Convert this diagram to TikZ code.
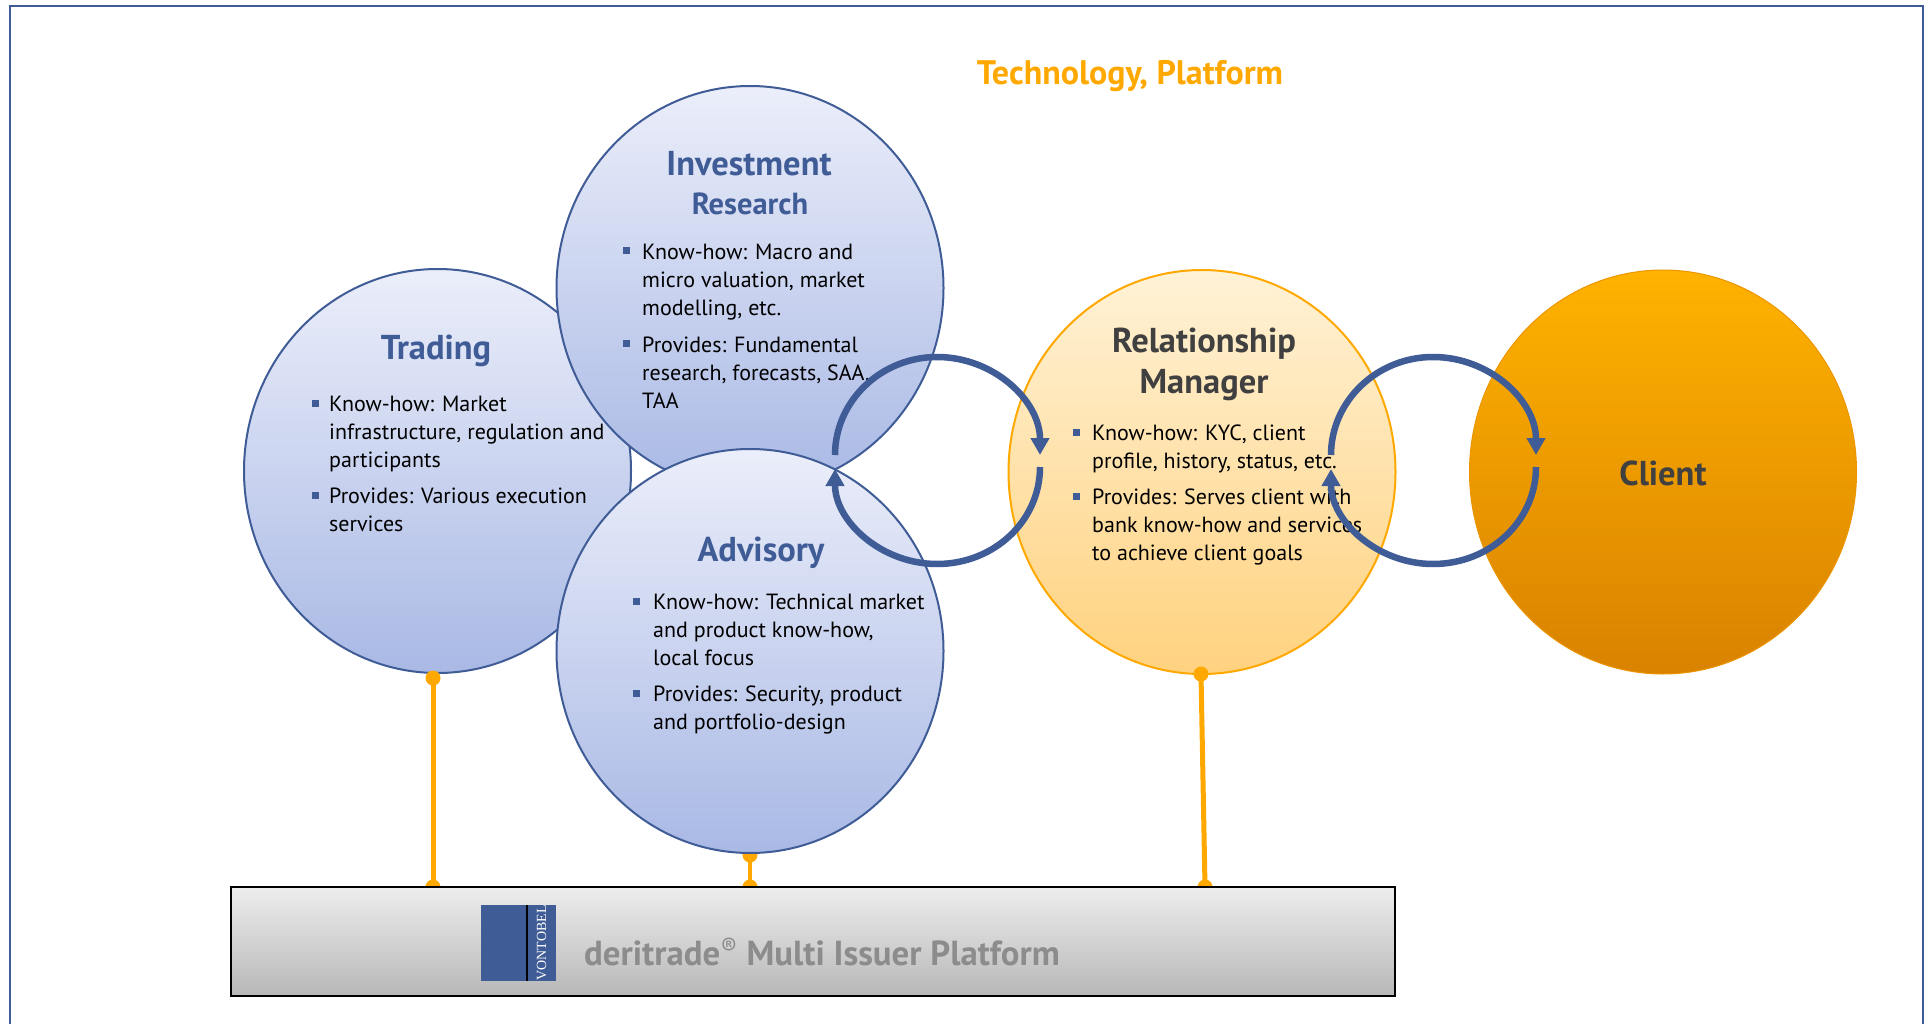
\documentclass[tikz,border=0pt]{standalone}
\usepackage{fontspec}
\setmainfont{PT Sans}
\usetikzlibrary{shapes.geometric,arrows.meta}
\definecolor{vblue}{HTML}{3F5C96}
\definecolor{vorange}{HTML}{FFA800}
\definecolor{blueTop}{HTML}{EBEEFA}
\definecolor{blueBot}{HTML}{A9B9E5}
\definecolor{rmTop}{HTML}{FFF2D6}
\definecolor{rmBot}{HTML}{FFD27F}
\definecolor{cliTop}{HTML}{FFB200}
\definecolor{cliBot}{HTML}{D98200}
\definecolor{darkT}{HTML}{404040}
\newcommand\blk[1]{\begin{tabular}[t]{@{}l@{}}#1\end{tabular}}
\tikzset{
  blob/.style={ellipse,inner sep=0pt,minimum width=387pt,minimum height=404pt},
  bluec/.style={blob,draw=vblue,line width=2pt,top color=blueTop,bottom color=blueBot},
  rmc/.style={blob,draw=vorange,line width=2pt,top color=rmTop,bottom color=rmBot},
  clientc/.style={blob,draw=cliBot!50!vorange,line width=1pt,top color=cliTop,bottom color=cliBot},
  ttl/.style={font=\bfseries\fontsize{34.5}{40}\selectfont,text=vblue,inner sep=0pt,anchor=center},
  ttlsub/.style={font=\bfseries\fontsize{30.5}{36}\selectfont,text=vblue,inner sep=0pt,anchor=center},
  dark/.style={text=darkT},
  body/.style={font=\fontsize{22}{28}\selectfont,text=black,inner sep=0pt,anchor=base west},
  bul/.style={fill=vblue,inner sep=0pt,minimum size=7pt},
  dot/.style={circle,fill=vorange,inner sep=0pt,minimum size=15pt},
  link/.style={draw=vorange,line width=5pt},
  cyc/.style={draw=vblue,line width=6.5pt},
  cyctip/.style={cyc,-{Triangle[length=17pt,width=18pt]}},
}
\begin{document}
\begin{tikzpicture}[x=1pt,y=-1pt]
\useasboundingbox (0,0) rectangle (1924,1024);
\fill[white] (0,0) rectangle (1924,1024);
\draw[vblue,line width=2pt] (10,1030) -- (10,6) -- (1922.5,6) -- (1922.5,1030);
\clip (0,0) rectangle (1924,1024);
\coordinate (tt) at (433,678); \coordinate (tb) at (433,887);
\coordinate (at) at (750,855); \coordinate (ab) at (750,887);
\coordinate (rt) at (1201,674); \coordinate (rb) at (1205,887);
\node[dot] (dat) at (at) {};
\draw[link,line width=4pt] (at) -- (ab);
\node[bluec] (trading) at (437.5,471) {};
\node[bluec] (invest) at (750,288) {};
\node[bluec] (advis) at (750,651) {};
\node[rmc] (rm) at (1202,472) {};
\node[clientc] (client) at (1663,472) {};
\node[dot] (dtt) at (tt) {};
\draw[link] (dtt.center) -- (tb);
\node[dot] (drt) at (rt) {};
\draw[link] (drt.center) -- (rb);
\node[dot] (dtb) at (tb) {};
\node[dot] (dab) at (ab) {};
\node[dot] (drb) at (rb) {};
\node[draw=black,line width=2pt,minimum width=1164pt,minimum height=109pt,inner sep=0pt,top color=black!7,bottom color=black!28] (plat) at (813,941.5) {};
\node[fill=vblue,inner sep=0pt,minimum width=75pt,minimum height=76pt] (logo) at (518.5,943) {};
\draw[black,line width=1.5pt] (527,905) -- (527,981);
\node[rotate=90,text=white,inner sep=0pt,font=\fontspec{Liberation Serif}\fontsize{14}{15}\selectfont] (vont) at (541.5,943) {VONTOBEL};
\node[font=\bfseries\fontsize{34.8}{40}\selectfont,text=black!45,inner sep=0pt,anchor=west] (plattext) at (584,952) {deritrade\textsuperscript{\textmd{®}} Multi Issuer Platform};
\node[font=\bfseries\fontsize{34}{40}\selectfont,text=vorange,inner sep=0pt] (tech) at (1130,76.5) {Technology, Platform};
\node[ttl] (t1) at (436,350.5) {Trading};
\node[ttl] (t2) at (749,164) {Investment};
\node[ttlsub] (t2b) at (750,204) {Research};
\node[ttl] (t3) at (761,552.5) {Advisory};
\node[ttl,dark] (t4) at (1204,343.5) {Relationship};
\node[ttl,dark] (t4b) at (1204,385.5) {Manager};
\node[ttl,dark] (t5) at (1663,473) {Client};
\node[bul] (b1a) at (315,403) {};
\node[body] (x1a) at (329,411) {\blk{Know-how: Market\\infrastructure, regulation and\\participants}};
\node[bul] (b1b) at (315,495) {};
\node[body] (x1b) at (329,503) {\blk{Provides: Various execution\\services}};
\node[bul] (b2a) at (626,251) {};
\node[body] (x2a) at (642,260) {\blk{Know-how: Macro and\\micro valuation, market\\modelling, etc.}};
\node[bul] (b2b) at (626,343) {};
\node[body] (x2b) at (642,352) {\blk{Provides: Fundamental\\research, forecasts, SAA,\\TAA}};
\node[bul] (b3a) at (636,601) {};
\node[body] (x3a) at (653,609) {\blk{Know-how: Technical market\\and product know-how,\\local focus}};
\node[bul] (b3b) at (636,693) {};
\node[body] (x3b) at (653,701) {\blk{Provides: Security, product\\and portfolio-design}};
\node[bul] (b4a) at (1076,432) {};
\node[body] (x4a) at (1092,440) {\blk{Know-how: KYC, client\\profile, history, status, etc.}};
\node[bul] (b4b) at (1076,496) {};
\node[body] (x4b) at (1092,504) {\blk{Provides: Serves client with\\bank know-how and services\\to achieve client goals}};
\coordinate (l1) at (835,455); \coordinate (l2) at (937,357); \coordinate (l3) at (1040,455);
\coordinate (l4) at (1040,467); \coordinate (l5) at (937,564); \coordinate (l6) at (835,469);
\draw[cyctip] (l1) .. controls (835,401) and (881,357) .. (l2) .. controls (994,357) and (1040,401) .. (l3);
\draw[cyctip] (l4) .. controls (1040,521) and (994,564) .. (l5) .. controls (881,564) and (835,521) .. (l6);
\coordinate (r1) at (1331,455); \coordinate (r2) at (1433,357); \coordinate (r3) at (1536,455);
\coordinate (r4) at (1536,467); \coordinate (r5) at (1433,564); \coordinate (r6) at (1331,469);
\draw[cyctip] (r1) .. controls (1331,401) and (1377,357) .. (r2) .. controls (1490,357) and (1536,401) .. (r3);
\draw[cyctip] (r4) .. controls (1536,521) and (1490,564) .. (r5) .. controls (1377,564) and (1331,521) .. (r6);
\end{tikzpicture}
\end{document}
